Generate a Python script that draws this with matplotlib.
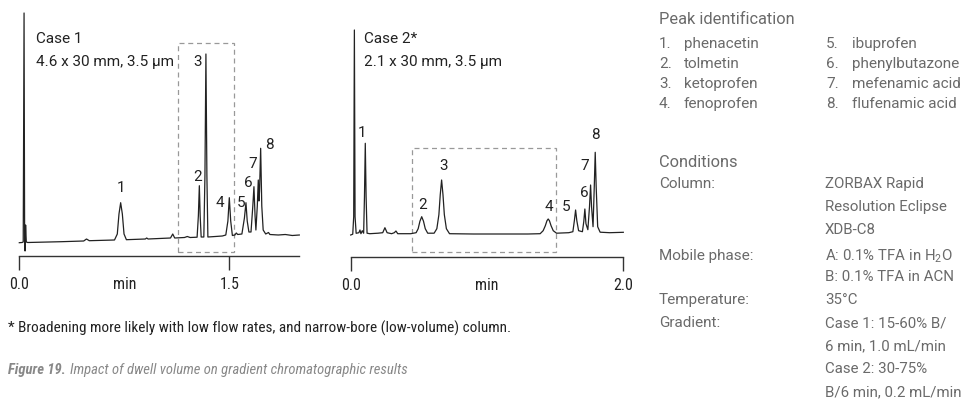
import matplotlib
matplotlib.use("Agg")
import matplotlib.pyplot as plt
from matplotlib.patches import Rectangle
from matplotlib import font_manager

# ---------------- data ----------------
# Case 1 trace: time (min) and detector signal (arbitrary units)
case1_time = [0.000, 0.020, 0.028, 0.034, 0.038, 0.041, 0.045, 0.050, 0.060,
              0.300, 0.460, 0.480, 0.500, 0.680, 0.700, 0.712, 0.724, 0.736, 0.748, 0.765,
              0.900, 0.910, 0.920, 1.000, 1.080, 1.096, 1.110, 1.180, 1.200, 1.220,
              1.270, 1.279, 1.286, 1.292, 1.299, 1.318, 1.326, 1.333, 1.340, 1.347,
              1.400, 1.450, 1.475, 1.490, 1.500, 1.510, 1.522, 1.540, 1.550, 1.560,
              1.590, 1.608, 1.619, 1.628, 1.640, 1.655, 1.668, 1.676, 1.684, 1.690,
              1.700, 1.707, 1.712, 1.716, 1.724, 1.732, 1.742, 1.760, 1.780, 1.790,
              1.850, 1.900, 1.950, 2.000]
case1_signal = [13.3, 13.5, 14.0, 243.0, 20.0, 5.0, 31.0, 14.0, 13.5,
                14.3, 15.0, 17.0, 15.3, 16.0, 22.0, 42.0, 53.3, 42.0, 22.0, 16.3,
                17.0, 18.0, 17.0, 17.5, 18.0, 22.0, 18.0, 18.5, 19.5, 18.5,
                18.8, 40.0, 70.3, 40.0, 19.0, 19.0, 80.0, 202.0, 80.0, 19.0,
                19.5, 20.0, 21.0, 35.0, 58.3, 35.0, 20.5, 21.0, 23.0, 21.5,
                22.0, 38.0, 53.3, 35.0, 24.0, 24.0, 50.0, 69.3, 40.0, 26.0,
                50.0, 76.0, 55.0, 65.0, 107.7, 50.0, 26.0, 22.0, 23.5, 21.5,
                21.0, 21.5, 20.5, 21.0]

# Case 2 trace
case2_time = [0.000, 0.015, 0.022, 0.027, 0.032, 0.040, 0.060, 0.068, 0.075, 0.085,
              0.095, 0.101, 0.107, 0.113, 0.120, 0.140, 0.200, 0.235, 0.251, 0.267,
              0.300, 0.320, 0.332, 0.345, 0.440, 0.480, 0.495, 0.508, 0.521, 0.534,
              0.547, 0.565, 0.612, 0.632, 0.647, 0.657, 0.667, 0.677, 0.687, 0.702,
              0.725, 0.900, 1.100, 1.300, 1.390, 1.412, 1.428, 1.440, 1.449, 1.458,
              1.470, 1.486, 1.510, 1.600, 1.630, 1.641, 1.650, 1.659, 1.672, 1.700,
              1.710, 1.718, 1.726, 1.740, 1.752, 1.760, 1.767, 1.778, 1.787, 1.794,
              1.801, 1.812, 1.830, 1.900, 2.000]
case2_signal = [21.7, 22.5, 40.0, 226.7, 40.0, 23.4, 24.0, 26.7, 23.0, 26.0,
                23.5, 60.0, 113.4, 60.0, 23.5, 23.0, 23.5, 24.0, 29.0, 24.0,
                23.0, 24.0, 25.7, 23.0, 23.0, 24.0, 28.0, 35.5, 40.0, 35.5,
                28.0, 23.5, 23.5, 28.0, 42.0, 62.0, 76.7, 62.0, 42.0, 28.0,
                23.0, 22.7, 22.7, 22.7, 23.0, 26.0, 31.0, 36.0, 37.7, 36.0,
                31.0, 26.0, 23.5, 24.0, 25.0, 36.0, 46.7, 36.0, 26.0, 25.0,
                35.0, 47.7, 33.0, 27.0, 50.0, 71.7, 50.0, 30.0, 70.0, 104.4,
                70.0, 30.0, 24.5, 24.0, 24.4]

# peak labels: number, time, signal (label centre)
case1_labels = ["1", "2", "3", "4", "5", "6", "7", "8"]
case1_label_t = [0.724, 1.274, 1.274, 1.434, 1.581, 1.636, 1.664, 1.786]
case1_label_y = [68.0, 79.3, 194.3, 53.0, 53.3, 73.3, 92.0, 111.0]

case2_labels = ["1", "2", "3", "4", "5", "6", "7", "8"]
case2_label_t = [0.085, 0.528, 0.679, 1.453, 1.577, 1.712, 1.719, 1.795]
case2_label_y = [123.4, 51.7, 91.0, 50.0, 50.0, 63.4, 91.0, 121.7]

# dashed boxes (time range, signal range)
case1_box = (1.136, 1.536, 3.7, 212.7)
case2_box = (0.448, 1.504, 4.4, 109.0)

case1_ticks = [0.0, 0.75, 1.5]
case1_ticklabels = ["0.0", "min", "1.5"]
case2_ticks = [0.0, 1.0, 2.0]
case2_ticklabels = ["0.0", "min", "2.0"]

peak_names_left = ["1.", "2.", "3.", "4."]
peak_left = ["phenacetin", "tolmetin", "ketoprofen", "fenoprofen"]
peak_names_right = ["5.", "6.", "7.", "8."]
peak_right = ["ibuprofen", "phenylbutazone", "mefenamic acid", "flufenamic acid"]

cond_keys = ["Column:", "", "", "Mobile phase:", "", "Temperature:", "Gradient:", "", "", ""]
cond_vals = ["ZORBAX Rapid", "Resolution Eclipse", "XDB-C8",
             "A: 0.1% TFA in H$_2$O", "B: 0.1% TFA in ACN", "35°C",
             "Case 1: 15-60% B/", "6 min, 1.0 mL/min", "Case 2: 30-75%",
             "B/6 min, 0.2 mL/min"]

# ---------------- styling ----------------
avail = {f.name for f in font_manager.fontManager.ttflist}
cond_prefs = ["Roboto Condensed", "Liberation Sans Narrow", "Archivo Narrow",
              "Barlow Semi Condensed", "Asap Condensed", "Roboto"]
COND = next((p for p in cond_prefs if p in avail), "DejaVu Sans")
REG = "Roboto" if "Roboto" in avail else "DejaVu Sans"
FAM_C = [COND, "DejaVu Sans"]
FAM_R = [REG, "DejaVu Sans"]
plt.rcParams["font.family"] = FAM_R
plt.rcParams["mathtext.fontset"] = "custom"
plt.rcParams["mathtext.rm"] = REG

W, H = 963, 419
fig = plt.figure(figsize=(W / 100, H / 100), dpi=100)
fig.patch.set_facecolor("white")


def fx(x):
    return x / W


def fy(y):
    return 1 - y / H


FS = 11
DARK = "#222222"
GRAY = "#6a6a6a"


def make_panel(left_px, right_px, axis_px, tmax, times, sig, ticks, ticklabels,
               labels, lt, ly, box, title1, title2, title_x):
    ax = fig.add_axes([fx(left_px), fy(axis_px), (right_px - left_px) / W, axis_px / H])
    ax.set_xlim(0, tmax)
    ax.set_ylim(0, axis_px)
    ax.plot(times, sig, color=DARK, lw=0.9, solid_joinstyle="round", clip_on=False)
    for s in ["top", "right", "left"]:
        ax.spines[s].set_visible(False)
    ax.spines["bottom"].set_color("#333333")
    ax.spines["bottom"].set_linewidth(1.0)
    ax.set_yticks([])
    ax.set_xticks(ticks)
    ax.set_xticklabels(ticklabels, family=FAM_C)
    ax.tick_params(axis="x", direction="out", length=10, width=1.0, color="#333333",
                   labelsize=FS + 0.5, labelcolor=DARK, pad=5)
    ax.xaxis.get_major_ticks()[1].tick1line.set_visible(False)
    ax.patch.set_alpha(0)
    for lab, t, y in zip(labels, lt, ly):
        ax.text(t, y, lab, ha="center", va="center", fontsize=FS, color=DARK)
    x0, x1, y0, y1 = box
    ax.add_patch(Rectangle((x0, y0), x1 - x0, y1 - y0, fill=False, ls=(0, (4, 3)),
                           lw=0.9, edgecolor="#999999", clip_on=False))
    fig.text(fx(title_x), fy(39), title1, ha="left", va="center", fontsize=FS, color=DARK)
    fig.text(fx(title_x), fy(62), title2, ha="left", va="center", fontsize=FS, color=DARK)
    return ax


make_panel(19.3, 299.3, 256.0, 2.0, case1_time, case1_signal, case1_ticks,
           case1_ticklabels, case1_labels, case1_label_t, case1_label_y, case1_box,
           "Case 1", "4.6 x 30 mm, 3.5 µm", 36)
make_panel(350.7, 623.3, 256.7, 2.0, case2_time, case2_signal, case2_ticks,
           case2_ticklabels, case2_labels, case2_label_t, case2_label_y, case2_box,
           "Case 2*", "2.1 x 30 mm, 3.5 µm", 364)

# right-hand text block
fig.text(fx(659), fy(20), "Peak identification", fontsize=FS + 0.8, color=GRAY, va="center")
for i in range(4):
    yy = 44 + 20 * i
    fig.text(fx(659), fy(yy), peak_names_left[i], fontsize=FS, color=GRAY, va="center")
    fig.text(fx(684), fy(yy), peak_left[i], fontsize=FS, color=GRAY, va="center")
    fig.text(fx(826), fy(yy), peak_names_right[i], fontsize=FS, color=GRAY, va="center")
    fig.text(fx(852), fy(yy), peak_right[i], fontsize=FS, color=GRAY, va="center")

fig.text(fx(659), fy(162), "Conditions", fontsize=FS + 0.8, color=GRAY, va="center")
cond_y = [184, 207, 230, 256, 277, 300, 323, 346, 369, 392]
for k, v, yy in zip(cond_keys, cond_vals, cond_y):
    if k:
        fig.text(fx(659), fy(yy), k, fontsize=FS, color=GRAY, va="center")
    fig.text(fx(825), fy(yy), v, fontsize=FS - 0.2, color=GRAY, va="center")

# footnote and caption
fig.text(fx(8), fy(328), "* Broadening more likely with low flow rates, and narrow-bore (low-volume) column.",
         fontsize=FS, color=DARK, va="center", family=FAM_C)
t1 = fig.text(fx(8), fy(370), "Figure 19.", fontsize=FS - 0.5, color="#888888", va="center",
              style="italic", weight="bold", family=FAM_C)
fig.canvas.draw()
bb = t1.get_window_extent()
fig.text(bb.x1 / W + 4 / W, fy(370), "Impact of dwell volume on gradient chromatographic results",
         fontsize=FS - 0.5, color="#888888", va="center", style="italic", family=FAM_C)

fig.savefig("out.png", dpi=100, facecolor="white")
